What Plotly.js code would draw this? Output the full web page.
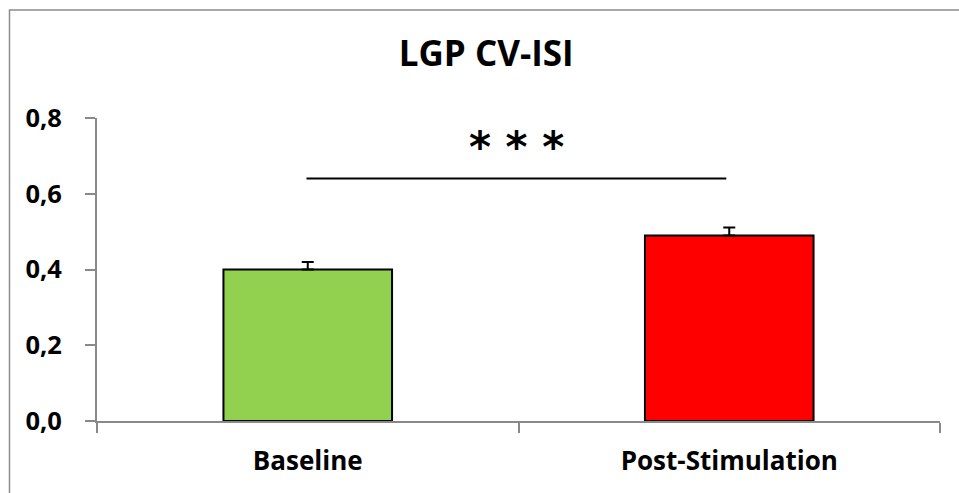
<!DOCTYPE html>
<html>
<head>
<meta charset="utf-8">
<script src="https://cdn.plot.ly/plotly-3.0.1.min.js"></script>
<style>html,body{margin:0;padding:0;background:#fff;}#chart{width:959px;height:493px;}</style>
</head>
<body>
<div id="chart"></div>
<script>
var categories = ["Baseline", "Post-Stimulation"];
var values = [0.40, 0.49];
var errors = [0.020, 0.021];
var barColors = ["#92D050", "#FF0000"];
var yTickVals = [0, 0.2, 0.4, 0.6, 0.8];
var yTickText = ["0,0", "0,2", "0,4", "0,6", "0,8"];
var sigFrom = -0.003, sigTo = 0.993, sigY = 0.64;
var sigLabel = "***";
var sigLabelX = 0.496, sigLabelY = 0.722;

var FONT = "Open Sans, Liberation Sans, sans-serif";

var trace = {
  type: "bar",
  x: categories,
  y: values,
  width: 0.4,
  marker: {color: barColors, line: {color: "#000", width: 2}},
  error_y: {type: "data", array: errors, visible: true, symmetric: false, arrayminus: [0,0], color: "#000", thickness: 2, width: 6},
  hoverinfo: "none"
};

var layout = {
  width: 959, height: 493,
  margin: {l: 97, r: 19, t: 118, b: 72},
  paper_bgcolor: "#fff", plot_bgcolor: "#fff",
  showlegend: false,
  separators: ",.",
  title: {text: "<b>LGP CV-ISI</b>", font: {family: FONT, size: 35, color: "#000"}, x: 0.507, xanchor: "center", y: 0.89, yanchor: "middle"},
  xaxis: {
    type: "category",
    range: [-0.5, 1.5],
    showline: true, linecolor: "#898989", linewidth: 2,
    ticks: "outside", ticklen: 10, tickcolor: "#898989", tickwidth: 2,
    tickson: "boundaries",
    showgrid: false, zeroline: false,
    tickfont: {family: FONT, size: 26, color: "#000", weight: "bold"},
    ticklabelstandoff: 16
  },
  yaxis: {
    range: [0, 0.8],
    tickvals: yTickVals, ticktext: yTickText,
    showline: true, linecolor: "#898989", linewidth: 2,
    ticks: "outside", ticklen: 10, tickcolor: "#898989", tickwidth: 2,
    showgrid: false, zeroline: false,
    tickfont: {family: FONT, size: 25.5, color: "#000", weight: "bold"},
    ticklabelstandoff: 18
  },
  shapes: [
    {type: "line", xref: "x", yref: "y", x0: sigFrom, x1: sigTo, y0: sigY, y1: sigY, line: {color: "#000", width: 2}},
    {type: "rect", xref: "paper", yref: "paper", x0: (9.5-97)/843, x1: 1.05, y0: -0.3, y1: 1 + (118-10)/303, line: {color: "#8c8c8c", width: 1.5}, fillcolor: "rgba(0,0,0,0)"}
  ],
  annotations: [
    {xref: "x", yref: "y", x: sigLabelX, y: sigLabelY, text: "<b>" + sigLabel.split("").join(" ") + "</b>", showarrow: false, font: {family: "DejaVu Sans, sans-serif", size: 42, color: "#000"}, xanchor: "center", yanchor: "middle"}
  ]
};

Plotly.newPlot("chart", [trace], layout, {displayModeBar: false, staticPlot: true});
</script>
</body>
</html>
